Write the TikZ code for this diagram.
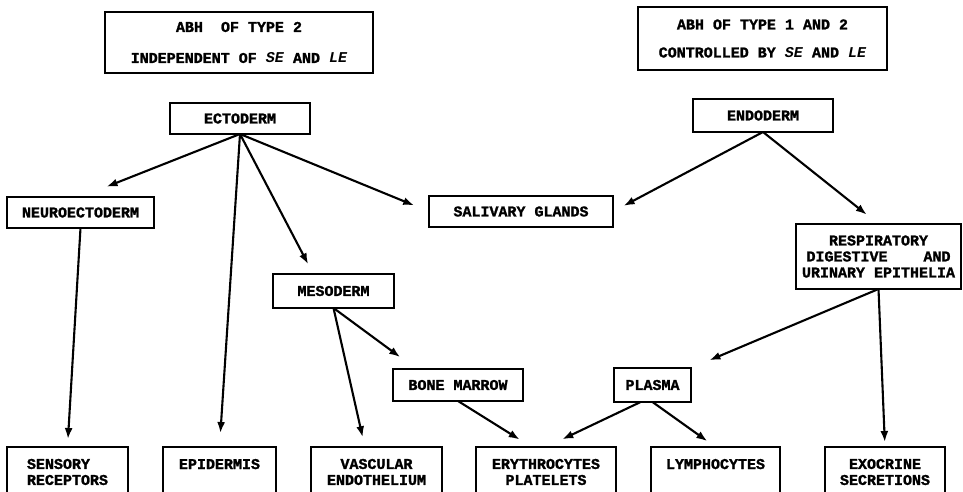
\documentclass[tikz,border=0pt]{standalone}
\usepackage{fontspec}
\setmonofont[BoldFeatures={FakeBold=1.5}]{Liberation Mono}
\usepackage{tikz}
\usetikzlibrary{arrows.meta}
\usetikzlibrary{positioning}

\begin{document}
\begin{tikzpicture}[x=1pt, y=-1pt, font=\fontsize{15}{16}\selectfont\ttfamily\bfseries]

\tikzstyle{layer}=[draw, line width=2.4pt, outer sep=0pt, minimum height=32pt, inner sep=0pt, align=center]
\tikzstyle{tissue}=[layer, minimum height=50pt]
\tikzstyle{line}=[draw, line width=2.1pt, -{Latex[length=11pt, width=8pt]}]

\clip (0,0) rectangle (963,492);

\node[layer, minimum width=268pt, minimum height=61pt] (typetwo) at (239,42.5) {ABH\ \ OF TYPE 2\\[15pt]INDEPENDENT OF \textit{SE} AND \textit{LE}};
\node[layer, minimum width=249pt, minimum height=63pt] (typeboth) at (762.5,38.5) {ABH OF TYPE 1 AND 2\\[12pt]CONTROLLED BY \textit{SE} AND \textit{LE}};

\node[layer, minimum width=140pt, minimum height=31pt] (ectoderm) at (240,118.5) {ECTODERM};
\node[layer, minimum width=140pt, minimum height=33pt] (endoderm) at (763,115.5) {ENDODERM};

\node[layer, minimum width=147pt, minimum height=31pt] (neuro) at (80.5,212.5) {NEUROECTODERM};
\node[layer, minimum width=184pt, minimum height=31pt] (salivary) at (521,211.5) {SALIVARY GLANDS};
\node[layer, minimum width=165pt, minimum height=65pt] (respiratory) at (878.5,256.5) {RESPIRATORY\\DIGESTIVE\ \ \ \ AND\\URINARY EPITHELIA};
\node[layer, minimum width=121pt, minimum height=34pt] (mesoderm) at (333.5,291) {MESODERM};
\node[layer, minimum width=130pt] (bone) at (458,385) {BONE MARROW};
\node[layer, minimum width=77pt, minimum height=34pt, right=91pt of bone] (plasma) {PLASMA};

\node[tissue, minimum width=121pt, align=left] (sensory) at (67.5,472) {SENSORY\\RECEPTORS};
\node[tissue, minimum width=113pt, right=35pt of sensory] (epidermis) {EPIDERMIS\\\mbox{}};
\node[tissue, minimum width=131pt, right=35pt of epidermis] (vascular) {VASCULAR\\ENDOTHELIUM};
\node[tissue, minimum width=140pt, right=34pt of vascular] (erythrocytes) {ERYTHROCYTES\\PLATELETS};
\node[tissue, minimum width=129pt, right=35pt of erythrocytes] (lymphocytes) {LYMPHOCYTES\\\mbox{}};
\node[tissue, minimum width=120pt, right=45pt of lymphocytes] (exocrine) {EXOCRINE\\SECRETIONS};

\path[line, shorten >=28pt] (ectoderm.south) -- (neuro.north);
\path[line, shorten >=16pt] (ectoderm.south) -- (salivary.west);
\path[line, shorten >=14pt] (ectoderm.south) -- (epidermis.north);
\path[line, shorten >=11pt] (ectoderm.south) -- (mesoderm.140);
\path[line, shorten >=8pt] (neuro.south) -- (sensory.north);

\path[line, shorten >=12pt] (endoderm.south) -- (salivary.east);
\path[line, shorten >=15pt] (endoderm.south) -- (respiratory.north);
\path[line, shorten >=20pt] (respiratory.south) -- (plasma.north east);
\path[line, shorten >=5pt] (respiratory.south) -- (exocrine.north);

\path[line, shorten >=10pt] (mesoderm.south) -- (vascular.115);
\path[line, shorten >=20pt] (mesoderm.south) -- (bone.159);
\path[line, shorten >=14pt] (bone.south) -- (erythrocytes.120);
\path[line, shorten >=18pt] (plasma.235) -- (erythrocytes.north);
\path[line, shorten >=10pt] (plasma.south) -- (lymphocytes.north);

\end{tikzpicture}
\end{document}
